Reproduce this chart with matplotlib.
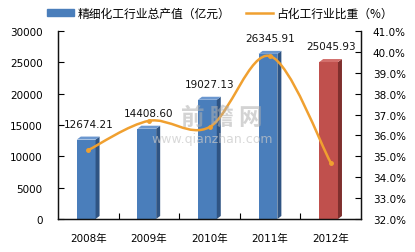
import numpy as np
import matplotlib
matplotlib.use('Agg')
import matplotlib.pyplot as plt
from matplotlib.patches import Polygon, PathPatch
from matplotlib.path import Path
from matplotlib.lines import Line2D

plt.rcParams['font.family'] = ['DejaVu Sans', 'Noto Sans CJK SC']

years = ['2008年', '2009年', '2010年', '2011年', '2012年']
output = [12674.21, 14408.60, 19027.13, 26345.91, 25045.93]
share = [35.3, 36.7, 36.4, 39.8, 34.7]
front_colors = ['#4A7EBB', '#4A7EBB', '#4A7EBB', '#4A7EBB', '#C0504D']
side_colors = ['#2F5483', '#2F5483', '#2F5483', '#2F5483', '#7F2F2D']
top_colors = ['#6B97CF', '#6B97CF', '#6B97CF', '#6B97CF', '#D26E6B']
line_color = '#F0A030'

fig = plt.figure(figsize=(4.15, 2.53), dpi=100)
ax = fig.add_axes([58 / 415, 33 / 253, 303 / 415, 188 / 253])
ax2 = ax.twinx()

x = np.arange(len(years))
w = 0.31
dx = 0.066
dy = 480
ax.bar(x - 0.19, output, width=w, align='edge', color=front_colors, linewidth=0, zorder=2)
for i, v in enumerate(output):
    left = x[i] - 0.19
    right = left + w
    ax.add_patch(Polygon([(right, 0), (right + dx, dy), (right + dx, v + dy), (right, v)],
                         closed=True, color=side_colors[i], lw=0, zorder=2))
    ax.add_patch(Polygon([(left, v), (right, v), (right + dx, v + dy), (left + dx, v + dy)],
                         closed=True, color=top_colors[i], lw=0, zorder=2))
    ax.annotate(f'{v:.2f}', (x[i], v), xytext=(0, 11.5), textcoords='offset points',
                ha='center', va='center', fontsize=7.5, color='#111111', zorder=5)

ax.set_xlim(-0.5, 4.5)
ax.set_ylim(0, 30000)
ax.set_yticks(range(0, 30001, 5000))
ax.set_xticks(x)
ax.set_xticklabels(years)
ax.set_xticks(np.arange(0.5, 4.5, 1), minor=True)
ax.tick_params(axis='x', which='major', length=0, pad=10, labelsize=7.5)
ax.tick_params(axis='x', which='minor', direction='in', length=4, width=0.8)
ax.tick_params(axis='y', direction='in', length=4, width=0.8, pad=11, labelsize=7.5)

ax2.set_ylim(32, 41)
ax2.set_yticks(np.arange(32, 41.01, 1))
ax2.set_yticklabels([f'{t:.1f}%' for t in np.arange(32, 41.01, 1)])
ax2.tick_params(axis='y', direction='in', length=4, width=0.8, pad=8.5, labelsize=7.5)

for a in (ax, ax2):
    a.spines['top'].set_visible(False)
    for s in ('left', 'right', 'bottom'):
        a.spines[s].set_linewidth(0.9)
        a.spines[s].set_color('#111111')

# smoothed line (Excel-style cubic bezier through the points)
pts = np.column_stack([x, share]).astype(float)
ext = np.vstack([pts[0], pts, pts[-1]])
verts = [tuple(pts[0])]
codes = [Path.MOVETO]
for i in range(len(pts) - 1):
    p0, p1, p2, p3 = ext[i], ext[i + 1], ext[i + 2], ext[i + 3]
    c1 = p1 + (p2 - p0) / 6
    c2 = p2 - (p3 - p1) / 6
    verts += [tuple(c1), tuple(c2), tuple(p2)]
    codes += [Path.CURVE4] * 3
ax2.add_patch(PathPatch(Path(verts, codes), fill=False, edgecolor=line_color, lw=1.8, zorder=4))
ax2.plot(x, share, 'o', color=line_color, ms=2.5, zorder=5)

# watermark
fig.text(222 / 415, 1 - 118 / 253, '前 瞻 网', fontsize=17, color='#B0B0B0', alpha=0.55,
         ha='center', va='center', family=['Noto Sans CJK SC'], fontweight='bold')
fig.text(212 / 415, 1 - 140 / 253, 'www.qianzhan.com', fontsize=9, color='#C8C8C8', alpha=0.7,
         ha='center', va='center')

handles = [
    plt.Rectangle((0, 0), 1, 1, color='#4A7EBB'),
    Line2D([0], [0], color=line_color, lw=1.8),
]
labels = ['精细化工行业总产值（亿元）', '占化工行业比重（%）']
fig.legend(handles, labels, loc='center', bbox_to_anchor=(0.53, 1 - 14 / 253), ncol=2,
           frameon=False, fontsize=8.5, handlelength=2.3, handleheight=0.5,
           handletextpad=0.3, columnspacing=1.3, prop={'family': ['Noto Sans CJK SC'], 'size': 8.5})

fig.savefig('out.png', dpi=100, facecolor='white')
